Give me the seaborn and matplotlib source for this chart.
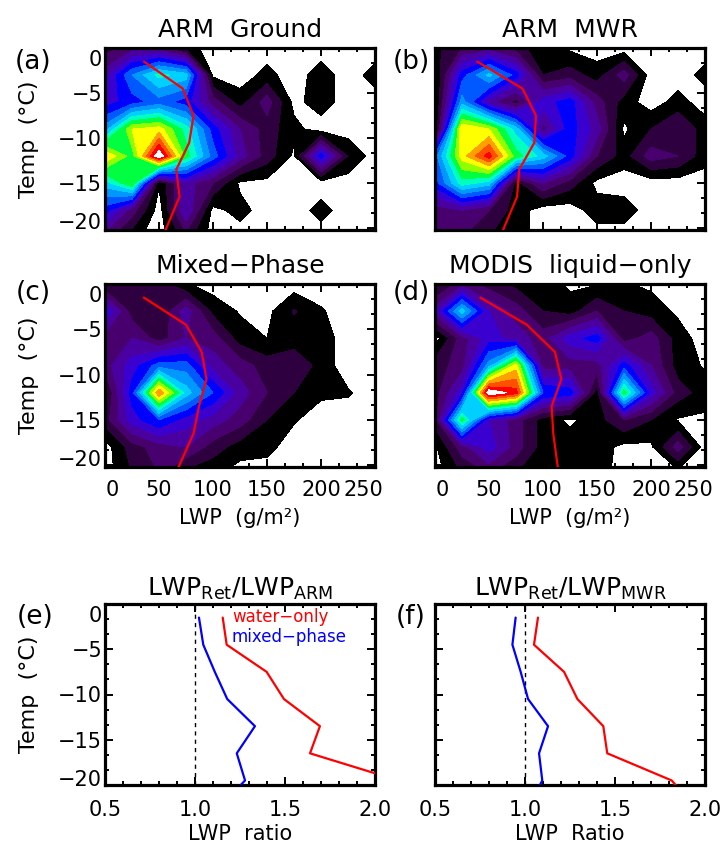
import numpy as np
import pandas as pd
import seaborn as sns
import matplotlib
matplotlib.use("Agg")
import matplotlib.pyplot as plt
from matplotlib.ticker import FixedLocator, AutoMinorLocator
from matplotlib.transforms import ScaledTranslation

# ---- grid of the 2-D histograms (LWP x Temp) ----
lwp_nodes = [0, 25, 50, 75, 100, 125, 150, 175, 200, 225, 250]
temp_nodes = [0, -3, -6, -9, -12, -15, -18, -21]

# relative frequency, in colour-level units (rows = temp_nodes, cols = lwp_nodes)
freq_arm = [
    [2.0, 3.0, 3.0, 1.0, 0.0, 0.0, 0.0, 0.0, 0.0, 0.0, 0.0],
    [4.0, 7.5, 9.8, 9.0, 0.3, 0.0, 0.8, 0.0, 1.0, 0.0, 0.9],
    [5.0, 6.0, 7.0, 6.0, 3.0, 1.0, 3.0, 0.2, 1.0, 0.0, 0.0],
    [8.0, 12.5, 13.0, 10.0, 6.0, 3.5, 2.0, 0.8, 0.0, 0.0, 0.0],
    [13.5, 11.0, 17.5, 11.0, 7.0, 4.0, 2.0, 0.3, 6.0, 1.4, 0.0],
    [9.0, 11.5, 0.6, 4.0, 2.5, 0.3, 0.2, 0.0, 0.0, 0.0, 0.0],
    [6.0, 3.0, 0.0, 4.5, 0.2, 0.85, 0.0, 0.0, 0.85, 0.0, 0.0],
    [3.0, 0.8, 0.0, 2.0, 0.0, 0.0, 0.0, 0.0, 0.0, 0.0, 0.0],
]
freq_mwr = [
    [1.2, 2.5, 3.0, 2.0, 0.7, 0.3, 0.0, 0.0, 0.0, 0.0, 0.0],
    [0.3, 6.0, 8.8, 6.0, 1.5, 2.0, 1.0, 3.0, 0.0, 0.0, 0.8],
    [0.3, 8.0, 4.0, 2.0, 5.0, 6.0, 3.0, 1.0, 0.0, 0.9, 0.0],
    [0.3, 13.5, 12.5, 9.0, 3.0, 6.0, 4.0, 0.3, 1.5, 2.5, 1.0],
    [7.0, 13.0, 16.0, 11.0, 9.0, 6.0, 2.5, 1.0, 3.0, 2.5, 0.9],
    [6.0, 10.0, 9.0, 1.0, 3.5, 2.0, 0.2, 0.0, 0.0, 0.0, 0.0],
    [3.0, 3.5, 2.5, 1.0, 0.0, 0.0, 1.0, 1.0, 0.0, 0.0, 0.0],
    [3.0, 2.5, 1.5, 1.0, 0.0, 0.0, 0.0, 0.0, 0.0, 0.0, 0.0],
]
freq_mixed = [
    [1.5, 2.5, 2.0, 0.6, 0.0, 0.0, 0.0, 0.0, 0.0, 0.0, 0.0],
    [5.5, 2.0, 1.5, 4.0, 1.2, 0.4, 0.2, 1.6, 0.6, 0.0, 0.0],
    [3.0, 3.5, 2.0, 3.5, 3.0, 1.0, 0.5, 0.8, 1.0, 0.0, 0.0],
    [3.0, 5.0, 7.0, 7.0, 4.0, 3.0, 2.0, 2.5, 1.0, 0.0, 0.0],
    [1.2, 6.0, 14.5, 9.0, 6.5, 4.0, 2.5, 1.5, 0.7, 0.6, 0.0],
    [2.0, 5.0, 6.5, 5.0, 4.0, 3.0, 1.5, 0.6, 0.0, 0.0, 0.0],
    [0.0, 2.0, 3.0, 3.5, 2.0, 1.0, 0.8, 0.0, 0.0, 0.0, 0.0],
    [0.0, 1.5, 2.5, 1.0, 0.7, 0.0, 0.0, 0.0, 0.0, 0.0, 0.0],
]
freq_liquid = [
    [1.0, 3.0, 2.0, 1.2, 1.0, 0.3, 0.4, 0.6, 0.3, 0.0, 0.0],
    [4.0, 9.0, 4.5, 3.0, 1.5, 1.0, 2.5, 1.5, 1.0, 0.3, 0.0],
    [0.0, 3.0, 5.0, 4.0, 3.0, 5.0, 6.0, 2.0, 3.0, 1.0, 0.0],
    [2.0, 3.0, 8.0, 13.0, 3.0, 3.0, 3.0, 6.0, 3.5, 1.0, 0.4],
    [2.0, 5.0, 17.5, 16.0, 6.5, 6.0, 1.0, 11.0, 5.0, 2.0, 1.0],
    [2.0, 11.0, 4.5, 3.0, 1.0, 0.3, 1.0, 2.5, 1.5, 0.4, 0.3],
    [0.3, 3.0, 5.0, 3.0, 1.0, 1.0, 1.0, 0.2, 0.3, 3.0, 0.0],
    [0.0, 1.5, 2.5, 1.5, 1.0, 1.0, 1.0, 0.0, 0.0, 0.0, 0.0],
]

# ---- mean LWP profiles (red lines) ----
temp_bins = [-1.5, -4.5, -7.5, -10.5, -13.5, -16.5, -20.5]
lwp_mean_arm = [36, 72, 82, 78, 66, 69, 55]
lwp_mean_mwr = [39, 81, 93.5, 92, 78, 76, 62]
lwp_mean_mixed = [36, 75, 89.5, 94, 87, 82, 67]
lwp_mean_liquid = [42, 85, 111, 117, 108, 109.5, 114]

# ---- LWP ratio profiles ----
ratio_temp = [-1.5, -4.5, -7.5, -10.5, -13.5, -16.5, -19.5, -20.0]
ratio_arm_water = [1.154, 1.176, 1.398, 1.494, 1.694, 1.639, 2.13, 2.15]
ratio_arm_mixed = [1.022, 1.046, 1.11, 1.179, 1.333, 1.232, 1.278, 1.254]
ratio_mwr_water = [1.072, 1.050, 1.217, 1.291, 1.435, 1.457, 1.815, 1.837]
ratio_mwr_mixed = [0.948, 0.930, 0.976, 1.017, 1.128, 1.078, 1.096, 1.083]

band_colors = ['#000000', '#2e0040', '#48006e', '#4a00a0', '#3a00d0', '#0000ff',
               '#0058ff', '#0098ff', '#00d0ff', '#00ffc0', '#00ff40', '#90ff00',
               '#ffff00', '#ffa000', '#ff5000', '#ff0000', '#ffffff']
levels = list(np.arange(0.5, 17.0, 1.0)) + [100]

sns.set_theme(style="ticks")
plt.rcParams['font.family'] = ['DejaVu Sans']
plt.rcParams['axes.unicode_minus'] = True
plt.rcParams['mathtext.default'] = 'regular'
plt.rcParams['text.color'] = 'black'
plt.rcParams['axes.labelcolor'] = 'black'

FS_TICK = 15
FS_LABEL = 16
FS_TITLE = 18

fig = plt.figure(figsize=(7.22, 8.49), dpi=100)
W, H = 722.0, 849.0


def make_ax(left, top, bottom, width=270):
    return fig.add_axes([left / W, 1 - bottom / H, width / W, (bottom - top) / H])


def style_axes(ax):
    for sp in ax.spines.values():
        sp.set_linewidth(2.3)
        sp.set_color('black')
    ax.tick_params(which='both', direction='in', top=True, right=True,
                   width=1.4, color='black', labelsize=FS_TICK, labelcolor='black')
    ax.tick_params(which='major', length=6)
    ax.tick_params(which='minor', length=3)
    ax.tick_params(axis='y', pad=2)
    ax.yaxis.set_major_locator(FixedLocator([-20, -15, -10, -5, 0]))
    ax.yaxis.set_minor_locator(AutoMinorLocator(3))


def contour_panel(ax, freq, lwp_mean, title, xlabels, ylabels):
    X, Y = np.meshgrid(lwp_nodes, temp_nodes)
    ax.contourf(X, Y, np.array(freq), levels=levels, colors=band_colors, zorder=1)
    sns.lineplot(x=lwp_mean, y=temp_bins, orient='y', sort=False, estimator=None,
                 color='red', lw=1.6, ax=ax, zorder=3)
    ax.set_xlim(0, 250)
    ax.set_ylim(-20.2, 0)
    style_axes(ax)
    ax.xaxis.set_major_locator(FixedLocator([0, 50, 100, 150, 200, 250]))
    ax.xaxis.set_minor_locator(AutoMinorLocator(3))
    ax.tick_params(axis='x', pad=9)
    ax.set_title(title, fontsize=FS_TITLE, pad=8)
    ax.set_xlabel('')
    ax.set_ylabel('')
    if xlabels:
        ax.set_xlabel('LWP  (g/m²)', fontsize=FS_TICK, labelpad=6)
    else:
        ax.set_xticklabels([])
    if ylabels:
        ax.set_ylabel('Temp  (°C)', fontsize=FS_LABEL, labelpad=14)
    else:
        ax.set_yticklabels([])


ax_a = make_ax(105, 48, 230)
ax_b = make_ax(435, 48, 230)
ax_c = make_ax(105, 284, 467)
ax_d = make_ax(435, 284, 467)
ax_e = make_ax(105, 604, 785)
ax_f = make_ax(435, 604, 785)

contour_panel(ax_a, freq_arm, lwp_mean_arm, 'ARM  Ground', False, True)
contour_panel(ax_b, freq_mwr, lwp_mean_mwr, 'ARM  MWR', False, False)
contour_panel(ax_c, freq_mixed, lwp_mean_mixed, 'Mixed\u2212Phase', True, True)
contour_panel(ax_d, freq_liquid, lwp_mean_liquid, 'MODIS  liquid\u2212only', True, False)


def ratio_panel(ax, water, mixed, title, xlab, ylabels):
    df = pd.DataFrame({
        'temp': ratio_temp + ratio_temp,
        'ratio': water + mixed,
        'kind': ['water'] * len(water) + ['mixed'] * len(mixed),
    })
    ax.axvline(1.0, color='black', lw=1.0, ls=(0, (3, 3)), zorder=1)
    sns.lineplot(data=df, x='ratio', y='temp', hue='kind', orient='y', sort=False,
                 estimator=None, palette={'water': 'red', 'mixed': 'blue'},
                 lw=1.6, legend=False, ax=ax, zorder=3)
    ax.set_xlim(0.5, 2.0)
    ax.set_ylim(-20, 0)
    style_axes(ax)
    ax.xaxis.set_major_locator(FixedLocator([0.5, 1.0, 1.5, 2.0]))
    ax.xaxis.set_minor_locator(AutoMinorLocator(5))
    ax.set_xticklabels(['0.5', '1.0', '1.5', '2.0'])
    ax.tick_params(axis='x', pad=11)
    ax.set_title(title, fontsize=FS_TITLE, pad=6)
    ax.set_xlabel(xlab, fontsize=FS_TICK, labelpad=3)
    ax.set_ylabel('')
    if ylabels:
        ax.set_ylabel('Temp  (°C)', fontsize=FS_LABEL, labelpad=14)
    else:
        ax.set_yticklabels([])


ratio_panel(ax_e, ratio_arm_water, ratio_arm_mixed,
            r'LWP$_{Ret}$/LWP$_{ARM}$', 'LWP  ratio', True)
ratio_panel(ax_f, ratio_mwr_water, ratio_mwr_mixed,
            r'LWP$_{Ret}$/LWP$_{MWR}$', 'LWP  Ratio', False)

ax_e.text(0.47, 0.93, 'water\u2212only', color='red', fontsize=12,
          transform=ax_e.transAxes, ha='left', va='center')
ax_e.text(0.47, 0.82, 'mixed\u2212phase', color='blue', fontsize=12,
          transform=ax_e.transAxes, ha='left', va='center')

# panel letters
for letter, (px, py) in zip('abcdef', [(33, 62), (411, 62), (33, 293),
                                       (411, 293), (35, 617), (411, 617)]):
    fig.text(px / W, 1 - py / H, '(%s)' % letter, fontsize=19,
             ha='center', va='center')


# end tick labels sit just inside the frame
def shift(label, dx, dy):
    label.set_transform(label.get_transform() +
                        ScaledTranslation(dx / 100.0, dy / 100.0, fig.dpi_scale_trans))


for ax in (ax_a, ax_c, ax_e):
    ylabs = ax.get_yticklabels()
    shift(ylabs[0], 0, 7)
    shift(ylabs[-1], 0, -10)
for ax in (ax_c, ax_d):
    xlabs = ax.get_xticklabels()
    shift(xlabs[0], 7, 0)
    shift(xlabs[-1], -12, 0)

fig.savefig('out.png', dpi=100)
